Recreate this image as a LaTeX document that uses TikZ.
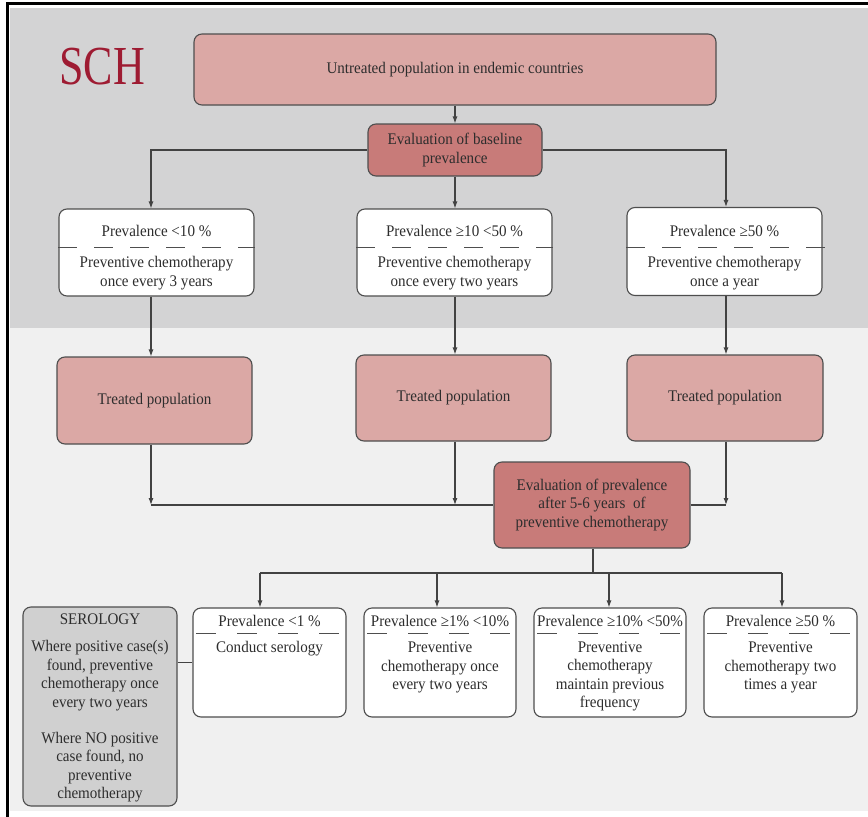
\documentclass[tikz,border=0pt]{standalone}
\usepackage{fontspec}
\setmainfont[FakeStretch=0.93]{Liberation Serif}
\newfontfamily\titlefont[FakeStretch=0.8]{Liberation Serif}
\usetikzlibrary{arrows.meta}

\definecolor{bgtop}{RGB}{211,211,212}
\definecolor{bglow}{RGB}{240,240,240}
\definecolor{pinkbox}{RGB}{219,168,165}
\definecolor{rosebox}{RGB}{200,123,121}
\definecolor{serbox}{RGB}{208,208,208}
\definecolor{schred}{RGB}{158,27,50}
\definecolor{edge}{RGB}{78,78,78}
\definecolor{wire}{RGB}{66,66,66}
\definecolor{ink}{RGB}{45,45,45}

\begin{document}
\begin{tikzpicture}[x=1pt,y=-1pt,
  box/.style={draw=edge, line width=1.1pt, rounded corners=8pt, inner sep=0pt,
              font=\fontsize{16.2}{18.5}\selectfont, text=ink, align=center},
  txt/.style={font=\fontsize{16.2}{18.5}\selectfont, text=ink, align=center, inner sep=0pt},
  wireline/.style={draw=wire, line width=1.1pt},
  arr/.style={wireline, -{Latex[length=7pt,width=5pt]}},
  divider/.style={draw=edge, line width=1.2pt, dash pattern=on 19pt off 17pt}]

% canvas, frame and the two shaded bands
\fill[white] (0,0) rectangle (868,817);
\useasboundingbox (0,0) rectangle (868,817);
\fill[bgtop] (9.5,8) rectangle (868,328);
\fill[bglow] (9.5,328) rectangle (868,811);
\draw[black, line width=2.4pt] (7.5,817) -- (7.5,3.5) -- (868,3.5);

% title
\node[text=schred, font=\titlefont\fontsize{55}{55}\selectfont, inner sep=0pt] (title) at (102,67) {SCH};

% column guides
\coordinate (cA) at (151,0);
\coordinate (cB) at (455,0);
\coordinate (cC) at (726,0);

% top of the flow
\node[box, fill=pinkbox, minimum width=522pt, minimum height=71pt] (top) at (455,69.5)
  {Untreated population in endemic countries};
\node[box, fill=rosebox, minimum width=174pt, minimum height=52pt] (ev1) at (455,150)
  {Evaluation of baseline\\prevalence};

% baseline prevalence classes
\node[box, fill=white, minimum width=195pt, minimum height=87pt] (p1) at (156.5,252.5) {};
\node[box, fill=white, minimum width=195pt, minimum height=87pt] (p2) at (454.5,252.5) {};
\node[box, fill=white, minimum width=195pt, minimum height=88pt] (p3) at (724.5,251.5) {};
\draw[divider] ([yshift=-39pt]p1.north west) -- ([yshift=-39pt]p1.north east);
\draw[divider] ([yshift=-39pt]p2.north west) -- ([yshift=-39pt]p2.north east);
\draw[divider] ([yshift=-40.5pt]p3.north west) -- ([yshift=-40.5pt,xshift=4pt]p3.north east);
\node[txt] (p1h) at (156.5,231) {Prevalence <10 \%};
\node[txt] (p2h) at (454.5,231) {Prevalence ≥10 <50 \%};
\node[txt] (p3h) at (724.5,231) {Prevalence ≥50 \%};
\node[txt] (p1b) at (156.5,273) {Preventive chemotherapy\\once every 3 years};
\node[txt] (p2b) at (454.5,273) {Preventive chemotherapy\\once every two years};
\node[txt] (p3b) at (724.5,273) {Preventive chemotherapy\\once a year};

% treated populations
\node[box, fill=pinkbox, minimum width=195pt, minimum height=87pt] (t1) at (154.5,400.5) {Treated population};
\node[box, fill=pinkbox, minimum width=195pt, minimum height=86pt] (t2) at (453.5,398) {Treated population};
\node[box, fill=pinkbox, minimum width=196pt, minimum height=86pt] (t3) at (725,398) {Treated population};

% follow-up evaluation
\node[box, fill=rosebox, minimum width=196pt, minimum height=86pt] (ev2) at (592,505)
  {Evaluation of prevalence\\after 5-6 years\ \ of\\preventive chemotherapy};

% follow-up prevalence classes
\node[box, fill=white, minimum width=153pt, minimum height=109pt] (q1) at (269.5,662.5) {};
\node[box, fill=white, minimum width=152pt, minimum height=109pt] (q2) at (440,662.5) {};
\node[box, fill=white, minimum width=152pt, minimum height=109pt] (q3) at (610,662.5) {};
\node[box, fill=white, minimum width=153pt, minimum height=109pt] (q4) at (780.5,662.5) {};
\foreach \q in {q1,q2,q3,q4}
  \draw[divider, dash pattern=on 20pt off 21pt, dash phase=-4pt]
    ([yshift=-26pt]\q.north west) -- ([yshift=-26pt]\q.north east);
\node[txt] (q1h) at (269.5,621) {Prevalence <1 \%};
\node[txt] (q2h) at (440,621) {Prevalence ≥1\% <10\%};
\node[txt] (q3h) at (610,621) {Prevalence ≥10\% <50\%};
\node[txt] (q4h) at (780.5,621) {Prevalence ≥50 \%};
\node[txt] (q1b) at (269.5,649) {Conduct serology};
\node[txt] (q2b) at (440,667.5) {Preventive\\chemotherapy once\\every two years};
\node[txt] (q3b) at (610,676.5) {Preventive\\chemotherapy\\maintain previous\\frequency};
\node[txt] (q4b) at (780.5,667.5) {Preventive\\chemotherapy two\\times a year};

% serology
\node[box, fill=serbox, minimum width=154pt, minimum height=199pt] (ser) at (100,706.5) {};
\node[txt] (serh) at (100,619) {SEROLOGY};
\node[txt] (ser1) at (100,675.5) {Where positive case(s)\\found, preventive\\chemotherapy once\\every two years};
\node[txt] (ser2) at (100,767) {Where NO positive\\case found, no\\preventive\\chemotherapy};

% connectors: baseline stage
\draw[arr] (top.south -| cB) -- (ev1.north -| cB);
\draw[arr] (ev1.west) -| (p1.north -| cA);
\draw[arr] (ev1.south -| cB) -- (p2.north -| cB);
\draw[arr] (ev1.east) -| (p3.north -| cC);
\draw[arr] (p1.south -| cA) -- (t1.north -| cA);
\draw[arr] (p2.south -| cB) -- (t2.north -| cB);
\draw[arr] (p3.south -| cC) -- (t3.north -| cC);

% connectors: treated populations to follow-up
\coordinate (jA) at (151,505);
\coordinate (jB) at (455,505);
\coordinate (jC) at (726,505);
\draw[arr] (t1.south -| cA) -- (jA);
\draw[arr] (t2.south -| cB) -- (jB);
\draw[arr] (t3.south -| cC) -- (jC);
\draw[wireline] (jA) -- (ev2.west);
\draw[wireline] (ev2.east) -- (jC);

% connectors: follow-up to classes
\coordinate (split) at (593,573);
\coordinate (hA) at (260,573);
\coordinate (hB) at (437,573);
\coordinate (hC) at (609,573);
\coordinate (hD) at (782,573);
\draw[wireline] (ev2.south -| split) -- (split);
\draw[wireline] (hA) -- (hD);
\draw[arr] (hA) -- (q1.north -| hA);
\draw[arr] (hB) -- (q2.north -| hB);
\draw[arr] (hC) -- (q3.north -| hC);
\draw[arr] (hD) -- (q4.north -| hD);
\draw[wireline] (ser.east |- q1.west) -- (q1.west);
\end{tikzpicture}
\end{document}
